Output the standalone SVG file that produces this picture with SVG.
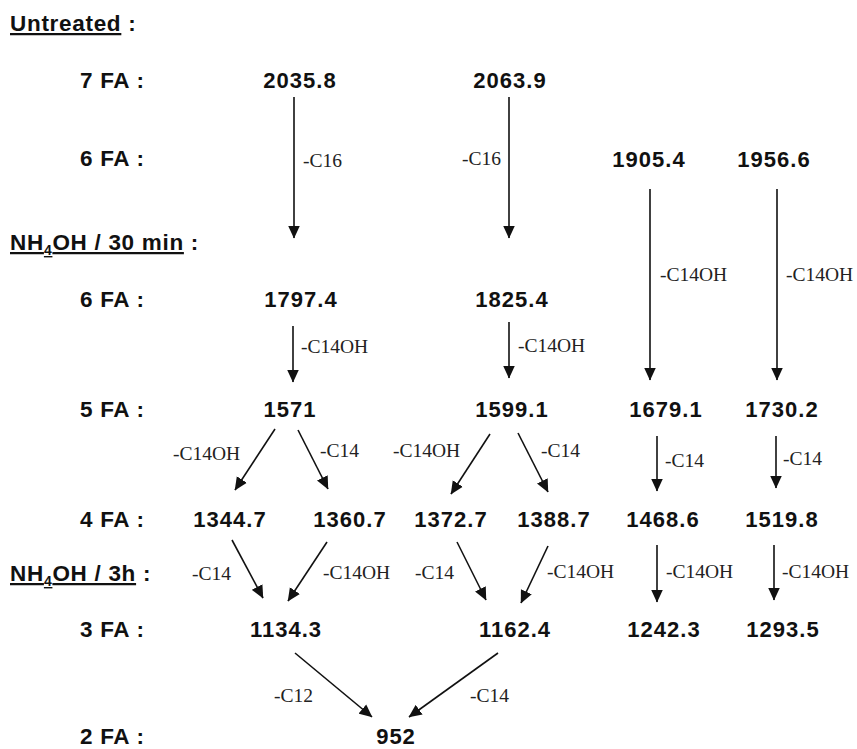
<svg xmlns="http://www.w3.org/2000/svg" width="857" height="749" viewBox="0 0 857 749">
<style>
.h{font-family:"Liberation Sans",Arial,sans-serif;font-weight:bold;font-size:22.5px;fill:#111;letter-spacing:0.7px}
.n{font-family:"Liberation Sans",Arial,sans-serif;font-weight:bold;font-size:22px;fill:#111;text-anchor:middle;letter-spacing:1px}
.l{font-family:"Liberation Serif","Times New Roman",serif;font-size:19.5px;fill:#222}
.u{text-decoration:underline}
.c line{stroke:#111;stroke-width:1.6;marker-end:url(#ah)}
</style>
<defs>
<marker id="ah" markerUnits="userSpaceOnUse" markerWidth="13" markerHeight="13" viewBox="0 0 13 12" refX="12.5" refY="6" orient="auto">
<path d="M0,0 L13,6 L0,12 z" fill="#111"/>
</marker>
</defs>
<rect width="857" height="749" fill="#fff"/>
<g id="headings">
<text class="h" x="10" y="31"><tspan class="u">Untreated</tspan> :</text>
<text class="h" x="10" y="250"><tspan class="u">NH<tspan font-size="14" dy="5">4</tspan><tspan dy="-5">OH / 30 min</tspan></tspan> :</text>
<text class="h" x="10" y="581"><tspan class="u">NH<tspan font-size="14" dy="5">4</tspan><tspan dy="-5">OH / 3h</tspan></tspan> :</text>
</g>
<g id="row-labels">
<text class="h" x="80" y="88">7 FA :</text>
<text class="h" x="80" y="166">6 FA :</text>
<text class="h" x="80" y="307">6 FA :</text>
<text class="h" x="80" y="417">5 FA :</text>
<text class="h" x="80" y="527">4 FA :</text>
<text class="h" x="80" y="637">3 FA :</text>
<text class="h" x="80" y="744">2 FA :</text>
</g>
<g id="n2035_8"><text class="n" x="300" y="88">2035.8</text></g>
<g id="n2063_9"><text class="n" x="510" y="88">2063.9</text></g>
<g id="n1905_4"><text class="n" x="649" y="167">1905.4</text></g>
<g id="n1956_6"><text class="n" x="774" y="167">1956.6</text></g>
<g id="n1797_4"><text class="n" x="301" y="307">1797.4</text></g>
<g id="n1825_4"><text class="n" x="512" y="307">1825.4</text></g>
<g id="n1571"><text class="n" x="290" y="417">1571</text></g>
<g id="n1599_1"><text class="n" x="512" y="417">1599.1</text></g>
<g id="n1679_1"><text class="n" x="666" y="417">1679.1</text></g>
<g id="n1730_2"><text class="n" x="782" y="417">1730.2</text></g>
<g id="n1344_7"><text class="n" x="230" y="527">1344.7</text></g>
<g id="n1360_7"><text class="n" x="350" y="527">1360.7</text></g>
<g id="n1372_7"><text class="n" x="451" y="527">1372.7</text></g>
<g id="n1388_7"><text class="n" x="554" y="527">1388.7</text></g>
<g id="n1468_6"><text class="n" x="663" y="527">1468.6</text></g>
<g id="n1519_8"><text class="n" x="782" y="527">1519.8</text></g>
<g id="n1134_3"><text class="n" x="286" y="637">1134.3</text></g>
<g id="n1162_4"><text class="n" x="515" y="637">1162.4</text></g>
<g id="n1242_3"><text class="n" x="664" y="637">1242.3</text></g>
<g id="n1293_5"><text class="n" x="783" y="637">1293.5</text></g>
<g id="n952"><text class="n" x="396" y="744">952</text></g>
<g id="connectors" class="c">
<line x1="294" y1="97" x2="294" y2="238"/>
<line x1="509" y1="97" x2="509" y2="238"/>
<line x1="650" y1="189" x2="650" y2="380"/>
<line x1="777" y1="189" x2="777" y2="380"/>
<line x1="293" y1="326" x2="293" y2="382"/>
<line x1="509" y1="322" x2="509" y2="378"/>
<line x1="275" y1="429" x2="235" y2="490"/>
<line x1="298" y1="430" x2="328" y2="489"/>
<line x1="490" y1="434" x2="451" y2="494"/>
<line x1="518" y1="433" x2="548" y2="492"/>
<line x1="657" y1="436" x2="657" y2="491"/>
<line x1="776" y1="436" x2="776" y2="488"/>
<line x1="232" y1="540" x2="263" y2="598"/>
<line x1="327" y1="542" x2="288" y2="601"/>
<line x1="457" y1="542" x2="486" y2="600"/>
<line x1="548" y1="546" x2="521" y2="603"/>
<line x1="657" y1="545" x2="657" y2="602"/>
<line x1="774" y1="545" x2="774" y2="600"/>
<line x1="295" y1="653" x2="372" y2="717"/>
<line x1="498" y1="653" x2="409" y2="717"/>
</g>
<g id="edge-labels">
<text class="l" x="303" y="167">-C16</text>
<text class="l" x="462" y="165">-C16</text>
<text class="l" x="660" y="281">-C14OH</text>
<text class="l" x="786" y="281">-C14OH</text>
<text class="l" x="301" y="353">-C14OH</text>
<text class="l" x="518" y="352">-C14OH</text>
<text class="l" x="173" y="460">-C14OH</text>
<text class="l" x="320" y="457">-C14</text>
<text class="l" x="393" y="457">-C14OH</text>
<text class="l" x="541" y="457">-C14</text>
<text class="l" x="665" y="467">-C14</text>
<text class="l" x="783" y="465">-C14</text>
<text class="l" x="192" y="580">-C14</text>
<text class="l" x="323" y="579">-C14OH</text>
<text class="l" x="415" y="579">-C14</text>
<text class="l" x="547" y="578">-C14OH</text>
<text class="l" x="666" y="578">-C14OH</text>
<text class="l" x="782" y="578">-C14OH</text>
<text class="l" x="274" y="702">-C12</text>
<text class="l" x="470" y="702">-C14</text>
</g>
</svg>
